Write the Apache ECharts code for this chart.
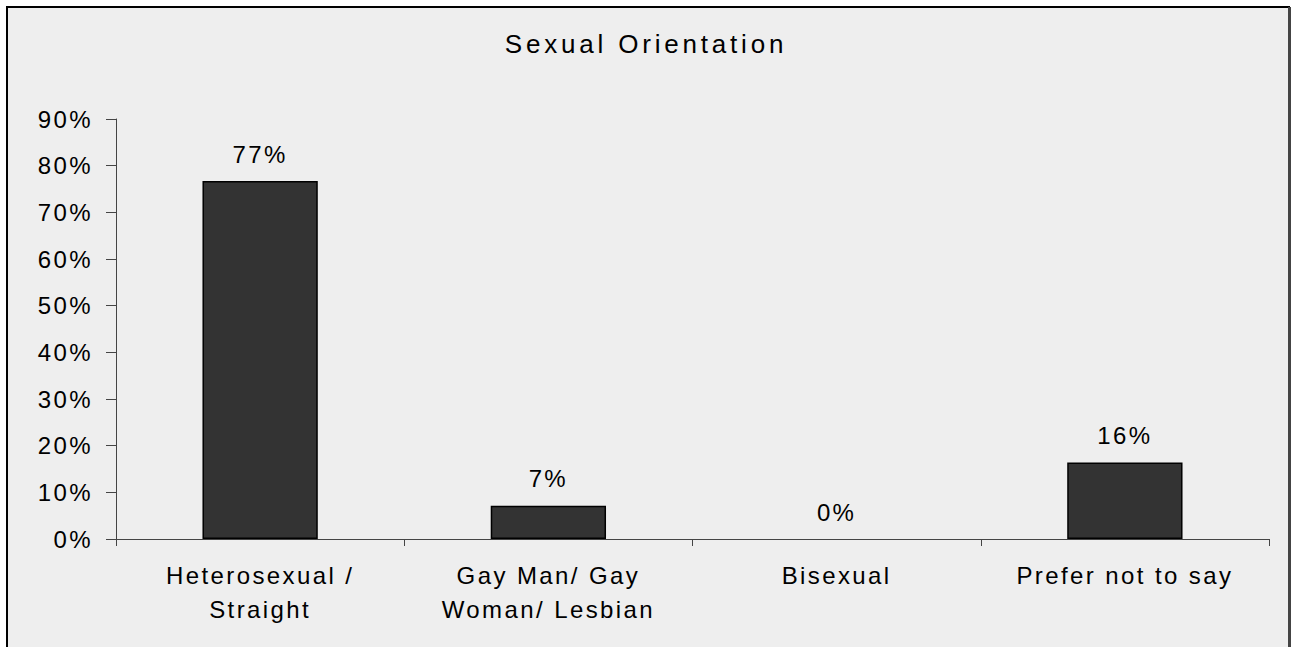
<!DOCTYPE html>
<html>
<head>
<meta charset="utf-8">
<script src="https://cdn.jsdelivr.net/npm/echarts@6/dist/echarts.min.js"></script>
<style>
  html, body { margin: 0; padding: 0; background: #ffffff; }
  #chart { width: 1292px; height: 647px; }
  #chart text { letter-spacing: 2.4px; }
  #chart text[style*="Arial"], #chart text[font-family*="Arial"] { letter-spacing: 3.8px; }
</style>
</head>
<body>
<div id="chart"></div>
<script>
const titleText = 'Sexual Orientation';
const categories = ['Heterosexual /\nStraight', 'Gay Man/ Gay\nWoman/ Lesbian', 'Bisexual', 'Prefer not to say'];
const values = [76.7, 7.1, 0, 16.4];
const yTicks = { min: 0, max: 90, interval: 10 };

const chart = echarts.init(document.getElementById('chart'), null, { renderer: 'svg' });
const font = 'Liberation Sans';
chart.setOption({
  backgroundColor: '#ffffff',
  animation: false,
  graphic: [
    { type: 'rect', z: -10, silent: true, shape: { x: 7, y: 7, width: 1282, height: 700 },
      style: { fill: '#eeeeee', stroke: '#000000', lineWidth: 2 } },
    { type: 'line', z: -9, silent: true, shape: { x1: 1289.5, y1: 7, x2: 1289.5, y2: 647 },
      style: { stroke: '#444444', lineWidth: 3 } }
  ],
  title: {
    text: titleText,
    left: 'center',
    top: 26,
    textStyle: { fontFamily: 'Arial', fontSize: 26, fontWeight: 'normal', color: '#000000' }
  },
  grid: { left: 116, right: 23, top: 119, bottom: 108, containLabel: false },
  xAxis: {
    type: 'category',
    data: categories,
    axisLine: { lineStyle: { color: '#444444', width: 1 } },
    axisTick: { show: true, length: 7, lineStyle: { color: '#444444' } },
    axisLabel: { fontFamily: font, fontSize: 24, lineHeight: 34, color: '#000000', margin: 19, interval: 0 }
  },
  yAxis: {
    type: 'value',
    min: yTicks.min, max: yTicks.max, interval: yTicks.interval,
    axisLine: { show: true, lineStyle: { color: '#444444', width: 1 } },
    axisTick: { show: true, length: 10, lineStyle: { color: '#444444' } },
    splitLine: { show: false },
    axisLabel: { fontFamily: font, fontSize: 24, color: '#000000', margin: 23, formatter: '{value}%' }
  },
  series: [{
    type: 'bar',
    data: values.map(v => v === 0 ? { value: v, itemStyle: { borderWidth: 0 } } : v),
    barWidth: '40%',
    itemStyle: { color: '#333333', borderColor: '#000000', borderWidth: 1.5 },
    label: {
      show: true, position: 'top', distance: 15,
      fontFamily: font, fontSize: 24, color: '#000000',
      formatter: p => Math.round(p.value) + '%'
    }
  }]
});
</script>
</body>
</html>
